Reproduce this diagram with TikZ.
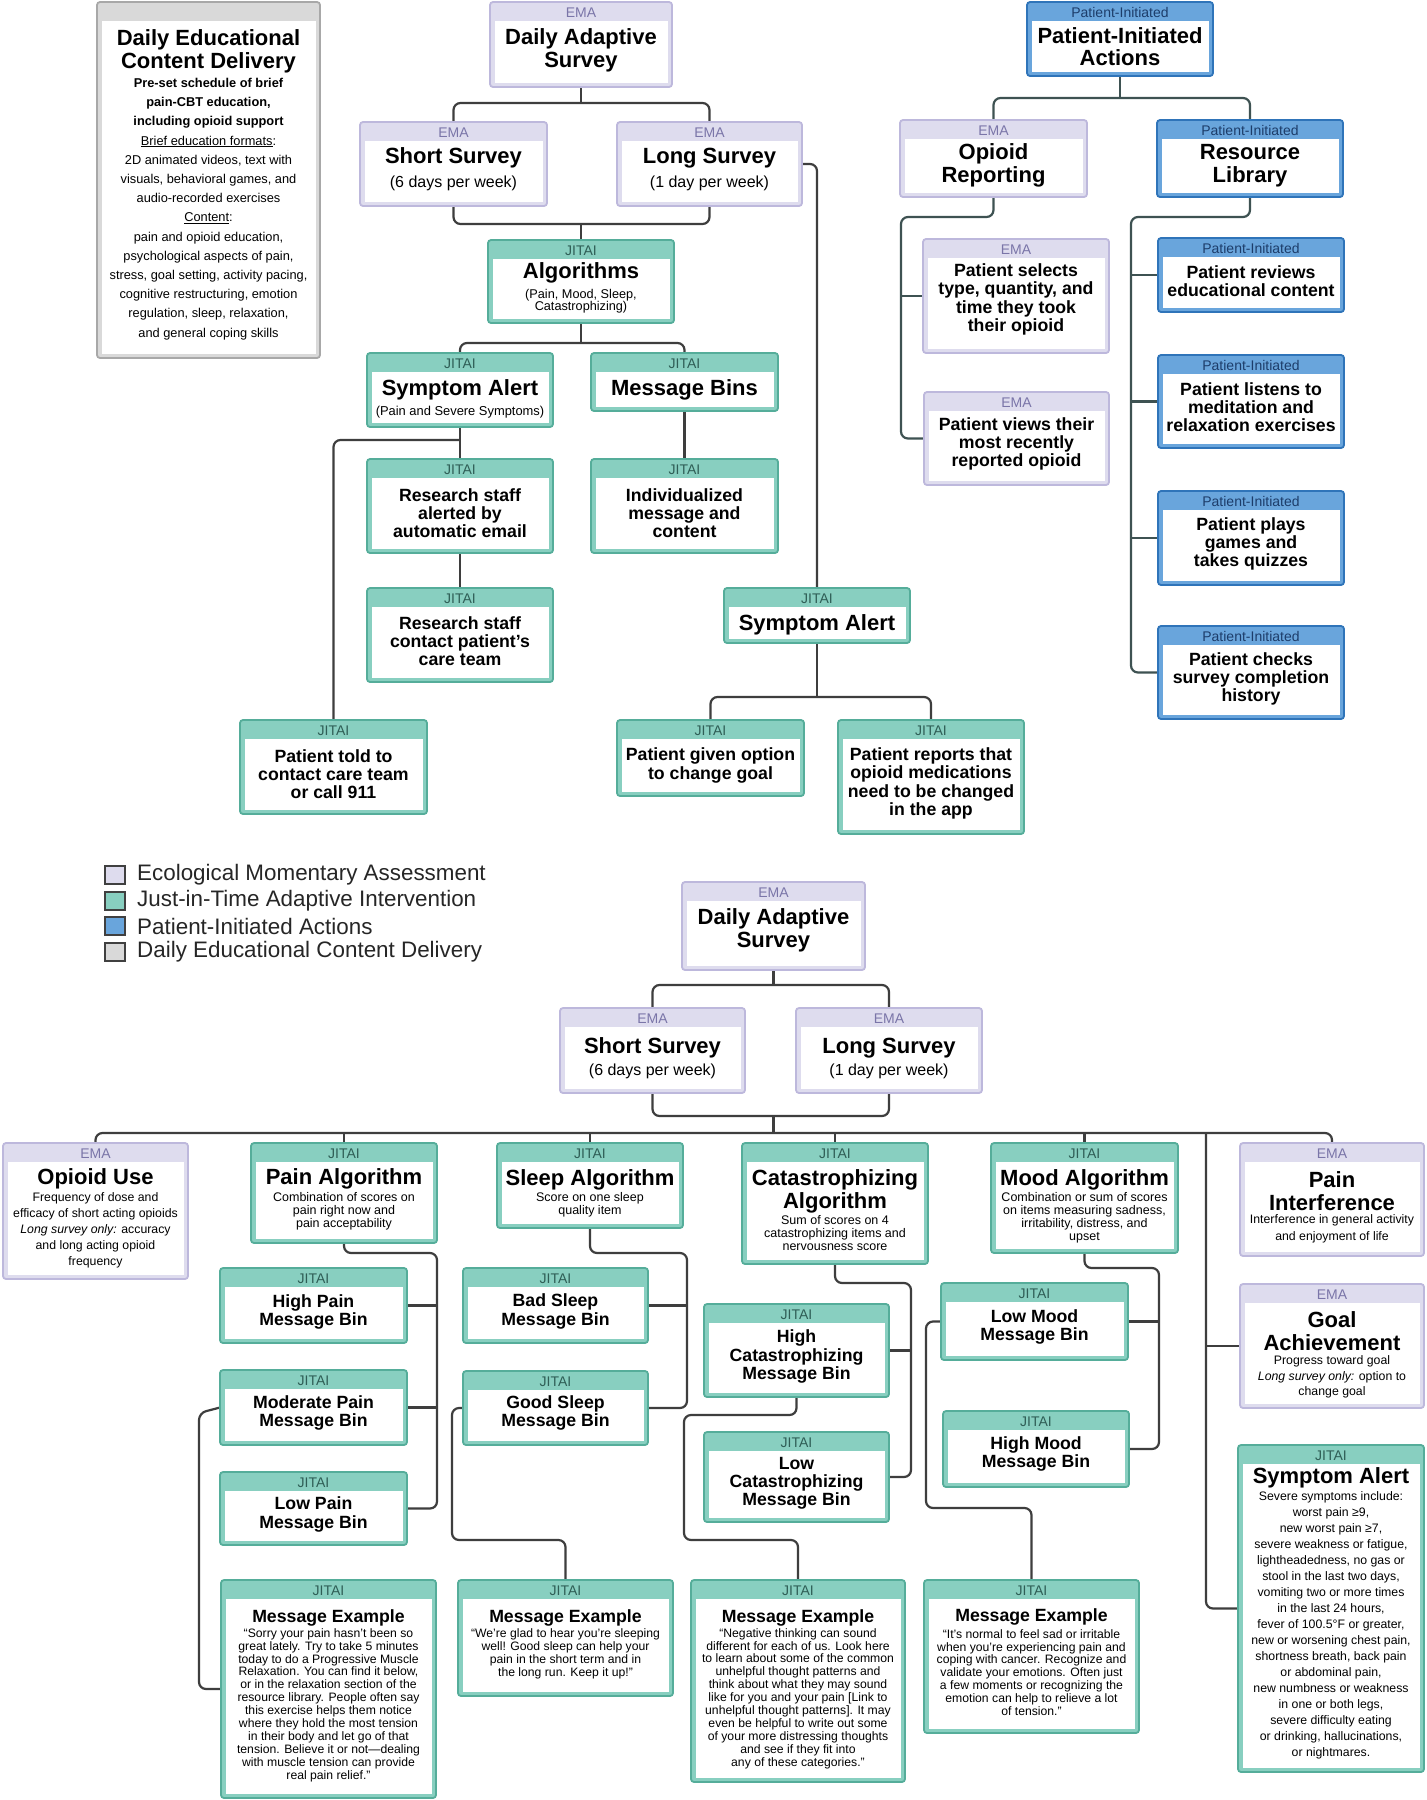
\documentclass[tikz,border=0pt]{standalone}
\usepackage{fontspec}
\setmainfont{Liberation Sans}
\usetikzlibrary{calc}
\pgfdeclarelayer{back}
\pgfdeclarelayer{bg}
\pgfsetlayers{back,bg,main}
\definecolor{emaB}{HTML}{BDB8DC}
\definecolor{emaH}{HTML}{DEDCEE}
\definecolor{emaL}{HTML}{7A75A8}
\definecolor{jitB}{HTML}{55AD9A}
\definecolor{jitH}{HTML}{88CFC0}
\definecolor{jitL}{HTML}{2F5E56}
\definecolor{piB}{HTML}{2F74B9}
\definecolor{piH}{HTML}{69A5DC}
\definecolor{piL}{HTML}{1D3D6A}
\definecolor{decB}{HTML}{A8A8A8}
\definecolor{decH}{HTML}{D9D9D9}
\definecolor{connC}{HTML}{3E3E3E}
\definecolor{connD}{HTML}{3E5252}
\newcommand\fTitle{\fontsize{22}{22.5}\selectfont\bfseries}
\newcommand\fBody{\fontsize{17.7}{18.2}\selectfont\bfseries}
\newcommand\fSubA{\fontsize{16}{18}\selectfont}
\newcommand\fSmall{\fontsize{12.5}{13}\selectfont}
\newcommand\fLab{\fontsize{14}{14}\selectfont}
\newcommand\fMsg{\fontsize{12.2}{12.9}\selectfont}
\newcommand\fLeg{\fontsize{22.4}{22.4}\selectfont}
\newcommand\fDec{\fontsize{12.8}{19.2}\selectfont}
\tikzset{
  boxbase/.style={draw,line width=1.8pt,rounded corners=3pt,inner sep=0pt,outer sep=0pt},
  emaframe/.style={fill=emaH,draw=emaB},
  jitframe/.style={fill=jitH,draw=jitB},
  piframe/.style={fill=piH,draw=piB},
  decframe/.style={fill=decH,draw=decB},
  hdrlab/.style={inner sep=0pt,font=\fLab},
  emalab/.style={text=emaL},
  jitlab/.style={text=jitL},
  pilab/.style={text=piL},
  declab/.style={text=decB},
  txt/.style={inner sep=0pt,outer sep=0pt,align=center,text=black},
  conn/.style={draw=connC,line width=2.2pt,rounded corners=7pt},
  connb/.style={draw=connD,line width=2.2pt,rounded corners=7pt},
  legsq/.style={draw=black!75,line width=1.2pt,minimum width=20pt,minimum height=18pt,inner sep=0pt},
  legtx/.style={anchor=west,inner sep=0pt,font=\fLeg,text=black!85}
}
\newcommand\mkbox[7]{%
  \node[boxbase,#2frame,minimum width={(#5-#3)*1pt},minimum height={(#6-#4)*1pt},anchor=north west] (#1) at (#3,#4) {};
  \fill[white] ({#3+4.5},{#4+19}) rectangle ({#5-4.5},{#6-4.5});
  \node[hdrlab,#2lab] (#1-lab) at ({(#3+#5)/2},{#4+10.5}) {#7};
}
\newcommand\tx[5]{\node[txt,font=#4] (#1) at (#2,#3) {#5};}
\begin{document}
\begin{tikzpicture}[x=1pt,y=-1pt]
\begin{pgfonlayer}{back}
\fill[white] (0,0) rectangle (1427,1800);
\end{pgfonlayer}
\useasboundingbox (0,0) rectangle (1427,1800);

% ---------------- top section ----------------
\mkbox{decd}{dec}{97}{2}{320}{358}{}
\tx{decd-t}{208.5}{51.5}{\fTitle}{Daily Educational\\Content Delivery}
\tx{decd-b}{208.5}{209}{\fDec}{{\bfseries Pre-set schedule of brief}\\{\bfseries pain-CBT education,}\\{\bfseries including opioid support}\\\underline{Brief education formats}:\\2D animated videos, text with\\visuals, behavioral games, and\\audio-recorded exercises\\\underline{Content}:\\pain and opioid education,\\psychological aspects of pain,\\stress, goal setting, activity pacing,\\cognitive restructuring, emotion\\regulation, sleep, relaxation,\\and general coping skills}

\mkbox{das1}{ema}{490}{2}{672}{87}{EMA}
\tx{das1-t}{581}{50.5}{\fTitle}{Daily Adaptive\\Survey}
\mkbox{ss1}{ema}{360}{122}{547}{206}{EMA}
\tx{ss1-t}{453.5}{158}{\fTitle}{Short Survey}
\tx{ss1-s}{453.5}{183}{\fSubA}{(6 days per week)}
\mkbox{ls1}{ema}{617}{122}{802}{206}{EMA}
\tx{ls1-t}{709.5}{158}{\fTitle}{Long Survey}
\tx{ls1-s}{709.5}{183}{\fSubA}{(1 day per week)}
\mkbox{alg}{jit}{488}{240}{674}{323}{JITAI}
\tx{alg-t}{581}{273}{\fTitle}{Algorithms}
\tx{alg-s}{581}{301}{\fontsize{12.7}{12.5}\selectfont}{(Pain, Mood, Sleep,\\Catastrophizing)}
\mkbox{sa1}{jit}{367}{353}{553}{427}{JITAI}
\tx{sa1-t}{460}{390}{\fTitle}{Symptom Alert}
\tx{sa1-s}{460}{412}{\fontsize{12.9}{13}\selectfont}{(Pain and Severe Symptoms)}
\mkbox{mb}{jit}{591}{353}{778}{411}{JITAI}
\tx{mb-t}{684.5}{390}{\fTitle}{Message Bins}
\mkbox{rsa}{jit}{367}{459}{553}{553}{JITAI}
\tx{rsa-t}{460}{513}{\fBody}{Research staff\\alerted by\\automatic email}
\mkbox{rsc}{jit}{367}{588}{553}{682}{JITAI}
\tx{rsc-t}{460}{641}{\fBody}{Research staff\\contact patient's\\care team}
\mkbox{ind}{jit}{591}{459}{778}{553}{JITAI}
\tx{ind-t}{684.5}{513}{\fBody}{Individualized\\message and\\content}
\mkbox{ptc}{jit}{240}{720}{427}{814}{JITAI}
\tx{ptc-t}{333.5}{774}{\fBody}{Patient told to\\contact care team\\or call 911}
\mkbox{sa2}{jit}{724}{588}{910}{643}{JITAI}
\tx{sa2-t}{817}{625}{\fTitle}{Symptom Alert}
\mkbox{pgo}{jit}{617}{720}{804}{796}{JITAI}
\tx{pgo-t}{710.5}{765.5}{\fBody}{Patient given option\\to change goal}
\mkbox{prep}{jit}{838}{720}{1024}{834}{JITAI}
\tx{prep-t}{931}{783.5}{\fBody}{Patient reports that\\opioid medications\\need to be changed\\in the app}

\mkbox{pia}{pi}{1027}{2}{1213}{76}{Patient-Initiated}
\tx{pia-t}{1120}{46.5}{\fTitle}{Patient-Initiated\\Actions}
\mkbox{opr}{ema}{900}{120}{1087}{197}{EMA}
\tx{opr-t}{993.5}{165.5}{\fTitle}{Opioid\\Reporting}
\mkbox{rl}{pi}{1157}{120}{1343}{197}{Patient-Initiated}
\tx{rl-t}{1250}{165.5}{\fTitle}{Resource\\Library}
\mkbox{psel}{ema}{923}{239}{1109}{353}{EMA}
\tx{psel-t}{1016}{299.5}{\fBody}{Patient selects\\type, quantity, and\\time they took\\their opioid}
\mkbox{pview}{ema}{924}{392}{1109}{485}{EMA}
\tx{pview-t}{1016.5}{444}{\fBody}{Patient views their\\most recently\\reported opioid}
\mkbox{prev}{pi}{1158}{238}{1344}{312}{Patient-Initiated}
\tx{prev-t}{1251}{281.5}{\fBody}{Patient reviews\\educational content}
\mkbox{plis}{pi}{1158}{355}{1344}{448}{Patient-Initiated}
\tx{plis-t}{1251}{407}{\fBody}{Patient listens to\\meditation and\\relaxation exercises}
\mkbox{pplay}{pi}{1158}{491}{1344}{585}{Patient-Initiated}
\tx{pplay-t}{1251}{544}{\fBody}{Patient plays\\games and\\takes quizzes}
\mkbox{pchk}{pi}{1158}{626}{1344}{719}{Patient-Initiated}
\tx{pchk-t}{1251}{679}{\fBody}{Patient checks\\survey completion\\history}

% ---------------- legend ----------------
\node[legsq,fill=emaH] (lg1) at (115,875) {};
\node[legtx] (lg1-t) at (137,875) {Ecological Momentary Assessment};
\node[legsq,fill=jitH] (lg2) at (115,901) {};
\node[legtx] (lg2-t) at (137,901) {Just-in-Time Adaptive Intervention};
\node[legsq,fill=piH] (lg3) at (115,926) {};
\node[legtx] (lg3-t) at (137,926) {Patient-Initiated Actions};
\node[legsq,fill=decH] (lg4) at (115,952) {};
\node[legtx] (lg4-t) at (137,952) {Daily Educational Content Delivery};

% ---------------- bottom section ----------------
\mkbox{das2}{ema}{682}{882}{865}{970}{EMA}
\tx{das2-t}{773.5}{930.5}{\fTitle}{Daily Adaptive\\Survey}
\mkbox{ss2}{ema}{560}{1008}{745}{1093}{EMA}
\tx{ss2-t}{652.5}{1048}{\fTitle}{Short Survey}
\tx{ss2-s}{652.5}{1071}{\fSubA}{(6 days per week)}
\mkbox{ls2}{ema}{796}{1008}{982}{1093}{EMA}
\tx{ls2-t}{889}{1048}{\fTitle}{Long Survey}
\tx{ls2-s}{889}{1071}{\fSubA}{(1 day per week)}

\mkbox{ou}{ema}{3}{1143}{188}{1279}{EMA}
\tx{ou-t}{95.5}{1179}{\fTitle}{Opioid Use}
\tx{ou-s}{95.5}{1230}{\fontsize{12.3}{16}\selectfont}{Frequency of dose and\\efficacy of short acting opioids\\\textit{Long survey only:} accuracy\\and long acting opioid\\frequency}
\mkbox{palg}{jit}{251}{1143}{437}{1243}{JITAI}
\tx{palg-t}{344}{1179}{\fTitle}{Pain Algorithm}
\tx{palg-s}{344}{1211}{\fSmall}{Combination of scores on\\pain right now and\\pain acceptability}
\mkbox{salg}{jit}{497}{1143}{683}{1228}{JITAI}
\tx{salg-t}{590}{1180}{\fTitle}{Sleep Algorithm}
\tx{salg-s}{590}{1205}{\fSmall}{Score on one sleep\\quality item}
\mkbox{calg}{jit}{742}{1143}{928}{1264}{JITAI}
\tx{calg-t}{835}{1191.5}{\fTitle}{Catastrophizing\\Algorithm}
\tx{calg-s}{835}{1233.5}{\fSmall}{Sum of scores on 4\\catastrophizing items and\\nervousness score}
\mkbox{malg}{jit}{991}{1143}{1178}{1253}{JITAI}
\tx{malg-t}{1084.5}{1180}{\fTitle}{Mood Algorithm}
\tx{malg-s}{1084.5}{1218}{\fSmall}{Combination or sum of scores\\on items measuring sadness,\\irritability, distress, and\\upset}
\mkbox{pint}{ema}{1240}{1143}{1424}{1256}{EMA}
\tx{pint-t}{1332}{1191}{\fTitle}{Pain\\Interference}
\tx{pint-s}{1332}{1228.5}{\fontsize{12.3}{17}\selectfont}{Interference in general activity\\and enjoyment of life}
\mkbox{goal}{ema}{1240}{1284}{1424}{1408}{EMA}
\tx{goal-t}{1332}{1331}{\fTitle}{Goal\\Achievement}
\tx{goal-s}{1332}{1377}{\fontsize{12.3}{15.5}\selectfont}{Progress toward goal\\\textit{Long survey only:} option to\\change goal}
\mkbox{sa3}{jit}{1238}{1445}{1424}{1772}{JITAI}
\tx{sa3-t}{1331}{1478}{\fTitle}{Symptom Alert}
\tx{sa3-s}{1331}{1625}{\fontsize{12.3}{16}\selectfont}{Severe symptoms include:\\worst pain ≥9,\\new worst pain ≥7,\\severe weakness or fatigue,\\lightheadedness, no gas or\\stool in the last two days,\\vomiting two or more times\\in the last 24 hours,\\fever of 100.5°F or greater,\\new or worsening chest pain,\\shortness breath, back pain\\or abdominal pain,\\new numbness or weakness\\in one or both legs,\\severe difficulty eating\\or drinking, hallucinations,\\or nightmares.}

\mkbox{hp}{jit}{220}{1268}{407}{1343}{JITAI}
\tx{hp-t}{313.5}{1312}{\fBody}{High Pain\\Message Bin}
\mkbox{mp}{jit}{220}{1370}{407}{1445}{JITAI}
\tx{mp-t}{313.5}{1413}{\fBody}{Moderate Pain\\Message Bin}
\mkbox{lp}{jit}{220}{1472}{407}{1545}{JITAI}
\tx{lp-t}{313.5}{1514.5}{\fBody}{Low Pain\\Message Bin}
\mkbox{bs}{jit}{463}{1268}{648}{1343}{JITAI}
\tx{bs-t}{555.5}{1311.5}{\fBody}{Bad Sleep\\Message Bin}
\mkbox{gs}{jit}{463}{1371}{648}{1445}{JITAI}
\tx{gs-t}{555.5}{1413}{\fBody}{Good Sleep\\Message Bin}
\mkbox{hc}{jit}{704}{1304}{889}{1397}{JITAI}
\tx{hc-t}{796.5}{1356.5}{\fBody}{High\\Catastrophizing\\Message Bin}
\mkbox{lc}{jit}{704}{1432}{889}{1522}{JITAI}
\tx{lc-t}{796.5}{1483.5}{\fBody}{Low\\Catastrophizing\\Message Bin}
\mkbox{lm}{jit}{941}{1283}{1128}{1360}{JITAI}
\tx{lm-t}{1034.5}{1327}{\fBody}{Low Mood\\Message Bin}
\mkbox{hm}{jit}{943}{1411}{1129}{1487}{JITAI}
\tx{hm-t}{1036}{1454}{\fBody}{High Mood\\Message Bin}

\mkbox{mep}{jit}{221}{1580}{436}{1798}{JITAI}
\tx{mep-t}{328.5}{1618}{\fBody}{Message Example}
\tx{mep-s}{328.5}{1705}{\fMsg}{“Sorry your pain hasn’t been so\\great lately. Try to take 5 minutes\\today to do a Progressive Muscle\\Relaxation. You can find it below,\\or in the relaxation section of the\\resource library. People often say\\this exercise helps them notice\\where they hold the most tension\\in their body and let go of that\\tension. Believe it or not—dealing\\with muscle tension can provide\\real pain relief.”}
\mkbox{mes}{jit}{458}{1580}{673}{1696}{JITAI}
\tx{mes-t}{565.5}{1618}{\fBody}{Message Example}
\tx{mes-s}{565.5}{1653.5}{\fMsg}{“We’re glad to hear you’re sleeping\\well! Good sleep can help your\\pain in the short term and in\\the long run. Keep it up!”}
\mkbox{mec}{jit}{691}{1580}{905}{1782}{JITAI}
\tx{mec-t}{798}{1618}{\fBody}{Message Example}
\tx{mec-s}{798}{1698.5}{\fMsg}{“Negative thinking can sound\\different for each of us. Look here\\to learn about some of the common\\unhelpful thought patterns and\\think about what they may sound\\like for you and your pain [Link to\\unhelpful thought patterns]. It may\\even be helpful to write out some\\of your more distressing thoughts\\and see if they fit into\\any of these categories.”}
\mkbox{mem}{jit}{924}{1580}{1139}{1733}{JITAI}
\tx{mem-t}{1031.5}{1617}{\fBody}{Message Example}
\tx{mem-s}{1031.5}{1672.5}{\fMsg}{“It’s normal to feel sad or irritable\\when you’re experiencing pain and\\coping with cancer. Recognize and\\validate your emotions. Often just\\a few moments or recognizing the\\emotion can help to relieve a lot\\of tension.”}

% ---------------- connectors ----------------
\coordinate (a1) at (581,103);
\coordinate (a2) at (581,224);
\coordinate (a3) at (581,343);
\coordinate (a4) at (460,440);
\coordinate (a5) at (817,697);
\coordinate (b1) at (1120,98);
\coordinate (b2) at (901,217);
\coordinate (b3) at (1131,217);
\coordinate (ta) at (773.5,985);
\coordinate (tb) at (773.5,1116);
\coordinate (tr) at (773.5,1133);
\coordinate (vx) at (1206,1133);
\coordinate (c1) at (437,1253);
\coordinate (c2) at (199,1413);
\coordinate (c3) at (687,1253);
\coordinate (c4) at (452,1540);
\coordinate (c5) at (911,1283);
\coordinate (c6) at (684,1415);
\coordinate (c7) at (684,1540);
\coordinate (c8) at (1159,1268);
\coordinate (c9) at (926,1508);
\begin{pgfonlayer}{bg}
\draw[conn] (das1.south) -- (a1);
\draw[conn] (ss1.north) |- (a1) -| (ls1.north);
\draw[conn] (ss1.south) |- (a2) -| (ls1.south);
\draw[conn] (a2) -- (alg.north);
\draw[conn] (ls1.east) -| (sa2.north);
\draw[conn] (alg.south) -- (a3);
\draw[conn] (sa1.north) |- (a3) -| (mb.north);
\draw[conn] (sa1.south) -- (rsa.north);
\draw[conn] (a4) -| (ptc.north);
\draw[conn] (rsa.south) -- (rsc.north);
\draw[conn] (mb.south) -- (ind.north);
\draw[conn] (sa2.south) -- (a5);
\draw[conn] (pgo.north) |- (a5) -| (prep.north);
\draw[connb] (pia.south) -- (b1);
\draw[connb] (opr.north) |- (b1) -| (rl.north);
\draw[connb] (opr.south) |- (b2) |- (pview.west);
\draw[connb] (psel.west) -- (psel.west -| b2);
\draw[connb] (rl.south) |- (b3) |- (pchk.west);
\draw[connb] (prev.west) -- (prev.west -| b3);
\draw[connb] (plis.west) -- (plis.west -| b3);
\draw[connb] (pplay.west) -- (pplay.west -| b3);
\draw[conn] (das2.south) -- (ta);
\draw[conn] (ss2.north) |- (ta) -| (ls2.north);
\draw[conn] (ss2.south) |- (tb) -| (ls2.south);
\draw[conn] (tb) -- (tr);
\draw[conn] (ou.north) |- (tr) -| (pint.north);
\draw[conn] (palg.north) -- (palg.north |- tr);
\draw[conn] (salg.north) -- (salg.north |- tr);
\draw[conn] (calg.north) -- (calg.north |- tr);
\draw[conn] (malg.north) -- (malg.north |- tr);
\draw[conn] (vx) |- (sa3.west);
\draw[conn] (goal.west) -- (goal.west -| vx);
\draw[conn] (palg.south) |- (c1) |- (lp.east);
\draw[conn] (hp.east) -- (hp.east -| c1);
\draw[conn] (mp.east) -- (mp.east -| c1);
\draw[conn] (mp.west) -- (c2) |- (mep.west);
\draw[conn] (salg.south) |- (c3) |- (gs.east);
\draw[conn] (bs.east) -- (bs.east -| c3);
\draw[conn] (gs.west) -| (c4) -| (mes.north);
\draw[conn] (calg.south) |- (c5) |- (lc.east);
\draw[conn] (hc.east) -- (hc.east -| c5);
\draw[conn] (hc.south) |- (c6) -- (c7) -| (mec.north);
\draw[conn] (malg.south) |- (c8) |- (hm.east);
\draw[conn] (lm.east) -- (lm.east -| c8);
\draw[conn] (lm.west) -| (c9) -| (mem.north);
\end{pgfonlayer}
\end{tikzpicture}
\end{document}
